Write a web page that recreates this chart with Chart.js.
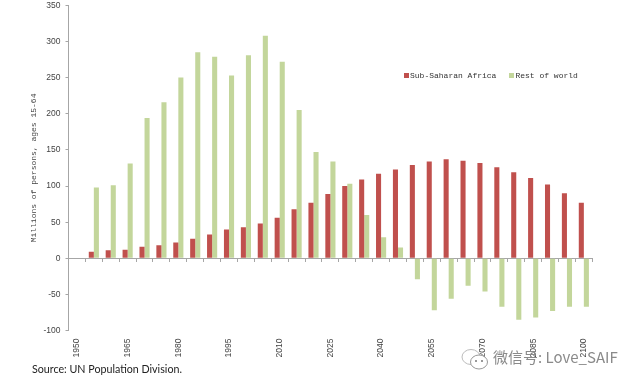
<!DOCTYPE html>
<html lang="en">
<head>
    <meta charset="UTF-8">
    <title>Working-age population change</title>
    <script src="https://cdn.jsdelivr.net/npm/chart.js"></script>
    <style>
        html, body { margin: 0; padding: 0; background: #fff; }
        #wrap { position: relative; width: 640px; height: 387px; overflow: hidden; }
        #legend { position: absolute; left: 404px; top: 71px; font: 8px "Liberation Mono", monospace; color: #333; white-space: pre; line-height: 10px; }
        #legend i { display: inline-block; width: 5px; height: 5px; margin-right: 1px; }
        #legend span { margin-right: 13px; }
        #source { position: absolute; left: 32px; top: 362px; font: 10.7px Lato, sans-serif; color: #222; }
        #mark { position: absolute; left: 461px; top: 346px; font: 15px "Noto Sans CJK SC", sans-serif; color: #8a8a8a; white-space: nowrap; }
        #mark svg { position: absolute; left: 0; top: 2px; }
        #mark span { margin-left: 32px; }
    </style>
</head>
<body>
    <div id="wrap">
        <canvas id="grafico" width="640" height="387"></canvas>
        <div id="legend"></div>
        <div id="source">Source: UN Population Division.</div>
        <div id="mark">
            <svg width="28" height="24" viewBox="0 0 28 24">
                <ellipse cx="10" cy="9" rx="9" ry="7.5" fill="#fff" stroke="#bbb"/>
                <ellipse cx="18" cy="14" rx="8.5" ry="7" fill="#fff" stroke="#999"/>
                <circle cx="15" cy="13" r="1" fill="#777"/>
                <circle cx="21" cy="13" r="1" fill="#777"/>
            </svg>
            <span>微信号: Love_SAIF</span>
        </div>
    </div>

    <script>
    const anos = ['1950','1955','1960','1965','1970','1975','1980','1985','1990','1995','2000','2005','2010','2015','2020','2025','2030','2035','2040','2045','2050','2055','2060','2065','2070','2075','2080','2085','2090','2095','2100'];
    const africa = [null,9,11,12,16,18,22,27,33,40,43,48,56,68,77,89,100,109,117,123,129,134,137,135,132,126,119,111,102,90,77];
    const restOfWorld = [null,98,101,131,194,216,250,285,279,253,281,308,272,205,147,134,103,60,29,15,-29,-72,-56,-38,-46,-67,-85,-82,-73,-67,-67];
    const seriesNames = ['Sub-Saharan Africa', 'Rest of world'];
    const seriesColors = ['#c0504d', '#c3d69b'];
    const axisColor = '#a6a6a6';

    // legend sits inside the plot, so it is plain html
    document.getElementById('legend').innerHTML = seriesNames.map(function(nome, i) {
        return '<span><i style="background:' + seriesColors[i] + '"></i>' + nome + '</span>';
    }).join('');

    new Chart(document.getElementById('grafico').getContext('2d'), {
        type: 'bar',
        data: {
            labels: anos,
            datasets: [
                { label: seriesNames[0], data: africa, backgroundColor: seriesColors[0] },
                { label: seriesNames[1], data: restOfWorld, backgroundColor: seriesColors[1] }
            ]
        },
        options: {
            responsive: false,
            animation: false,
            categoryPercentage: 0.6,
            barPercentage: 1,
            layout: { padding: { left: 29, right: 47.7, top: 5.3, bottom: 0 } },
            plugins: { legend: { display: false }, tooltip: { enabled: false } },
            scales: {
                x: {
                    position: 'bottom',
                    grid: { display: false },
                    border: { display: false },
                    afterFit: function(scale) { scale.height = 56.4; },
                    ticks: {
                        autoSkip: false, minRotation: 90, maxRotation: 90, padding: 0,
                        color: '#444', font: { family: 'Liberation Sans', size: 8.5 },
                        callback: function(v, i) { return i % 3 === 0 ? anos[i] : ''; }
                    }
                },
                zero: {
                    type: 'category',
                    axis: 'x',
                    position: { y: 0 },
                    grid: { drawOnChartArea: false, color: axisColor, tickLength: 3 },
                    border: { color: axisColor },
                    ticks: { display: false }
                },
                y: {
                    min: -100, max: 350,
                    grid: { drawOnChartArea: false, color: axisColor, tickLength: 3 },
                    border: { color: axisColor },
                    afterFit: function(scale) {
                        scale.width = 39.5;
                        // plot has to reach up to y=5, tick label overhang must not push it down
                        scale.paddingTop = 0;
                        scale.paddingBottom = 0;
                    },
                    title: {
                        display: true, text: 'Millions of persons, ages 15-64', padding: 0,
                        color: '#444', font: { family: 'Liberation Mono', size: 8 }
                    },
                    ticks: {
                        stepSize: 50, padding: 5,
                        color: '#444', font: { family: 'Liberation Sans', size: 8.5 }
                    }
                }
            }
        }
    });
    </script>
</body>
</html>
